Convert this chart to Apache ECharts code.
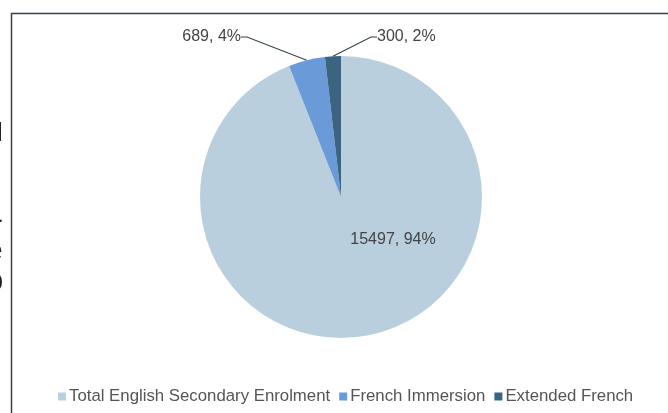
<!DOCTYPE html>
<html>
<head>
<meta charset="utf-8">
<script src="https://cdn.jsdelivr.net/npm/echarts@6/dist/echarts.min.js"></script>
<style>
  html, body { margin: 0; padding: 0; background: #fff; }
  #chart { width: 668px; height: 413px; }
</style>
</head>
<body>
<div id="chart"></div>
<script>
// enrolment split
const categories = ['Total English Secondary Enrolment', 'French Immersion', 'Extended French']
const values = [15497, 689, 300]
const percents = [94, 4, 2]
const colors = ['#b9cfdd', '#6a9bd8', '#3b6481']

const chart = echarts.init(document.getElementById('chart'))

// bits of the cropped page text at the left edge
const edgeText = (txt, x, y, size) => ({
  type: 'text',
  left: x,
  top: y,
  silent: true,
  z: -20,
  style: { text: txt, fill: '#222', font: size + 'px Liberation Sans' }
})

chart.setOption({
  animation: false,
  textStyle: { fontFamily: 'Liberation Sans, Arial, sans-serif' },
  graphic: [
    {
      type: 'rect',
      shape: { x: 11.5, y: 13.5, width: 700, height: 450 },
      style: { fill: '#fff', stroke: '#34434c', lineWidth: 1.5 },
      silent: true,
      z: -10
    },
    edgeText('l', -3, 121, 26),
    edgeText('.', -2.5, 205, 22),
    edgeText('e', -14, 237, 30),
    edgeText('o', -15.5, 265, 34)
  ],
  legend: {
    top: 388,
    left: 58,
    padding: 0,
    itemWidth: 8,
    itemHeight: 8,
    itemGap: 9,
    icon: 'rect',
    textStyle: { color: '#555', fontSize: 16.8, padding: [0, 0, 0, -2] },
    data: categories
  },
  series: [
    {
      type: 'pie',
      center: [341, 197],
      radius: [0, 141],
      startAngle: 90,
      clockwise: true,
      label: {
        show: true,
        color: '#444',
        fontSize: 16,
        formatter: function (p) {
          return values[p.dataIndex] + ', ' + percents[p.dataIndex] + '%'
        }
      },
      labelLine: {
        show: true,
        length: 12,
        length2: 6,
        lineStyle: { color: '#34434c', width: 1.2 }
      },
      labelLayout: function (p) {
        if (p.dataIndex === 0) return { x: 393, y: 240, align: 'center', verticalAlign: 'middle' }
        if (p.dataIndex === 1) return { x: 241, y: 37, align: 'right', verticalAlign: 'middle' }
        return { x: 377, y: 37, align: 'left', verticalAlign: 'middle' }
      },
      data: categories.map((c, i) => ({
        name: c,
        value: values[i],
        itemStyle: { color: colors[i] },
        labelLine: { show: i !== 0 }
      }))
    }
  ]
})
</script>
</body>
</html>
